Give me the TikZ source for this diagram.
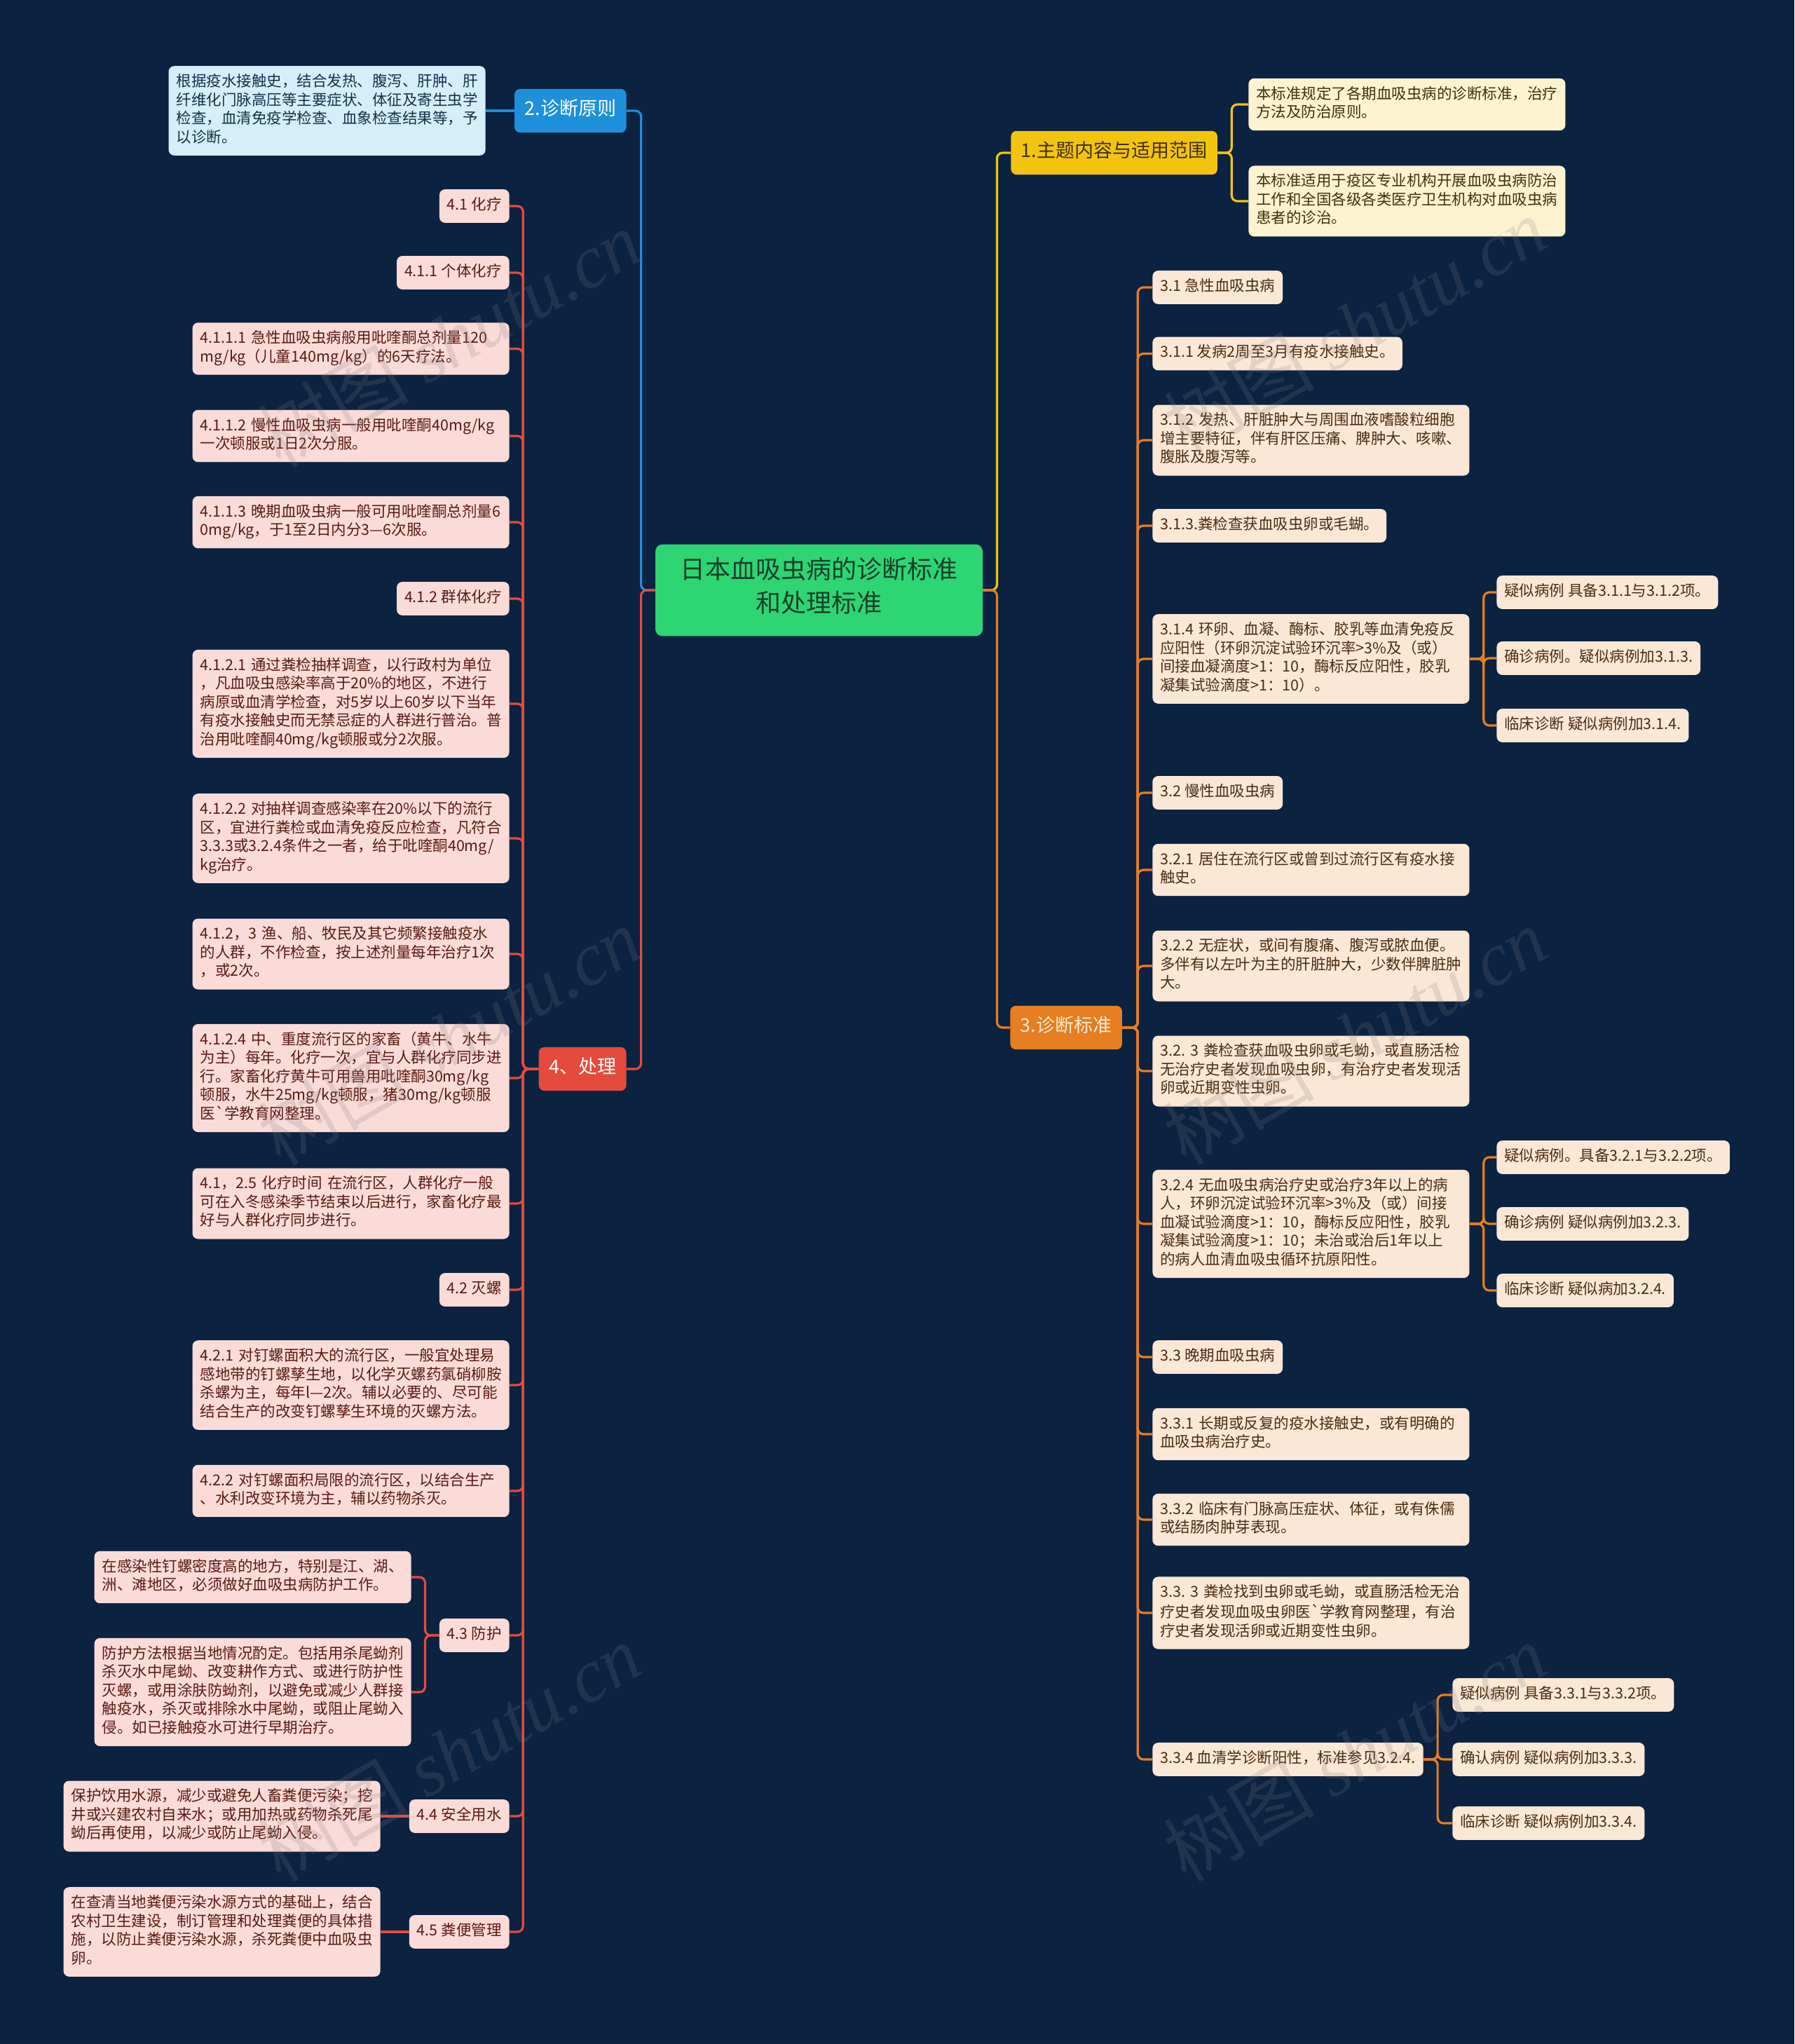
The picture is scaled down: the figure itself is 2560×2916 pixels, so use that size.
\documentclass[tikz,border=0pt]{standalone}
\usepackage{fontspec}
\setmainfont{Noto Sans CJK SC}
\newfontfamily\wmfont{Liberation Serif}
\usepackage{xcolor}
\usepackage{tikz}
\definecolor{mapbg}{HTML}{0B2241}
\definecolor{rootgreen}{HTML}{2ED573}
\definecolor{roottext}{HTML}{17402A}
\definecolor{mapblue}{HTML}{1E90DA}
\definecolor{bluefill}{HTML}{D6EEFA}
\definecolor{bluetext}{HTML}{12324A}
\definecolor{mapred}{HTML}{E44B3C}
\definecolor{redfill}{HTML}{FADBD8}
\definecolor{redtext}{HTML}{5A1A12}
\definecolor{mapyellow}{HTML}{F2C40F}
\definecolor{yellowfill}{HTML}{FDF3D0}
\definecolor{yellowtext}{HTML}{3D3210}
\definecolor{maporange}{HTML}{E67E22}
\definecolor{orangefill}{HTML}{FBE7D5}
\definecolor{orangetext}{HTML}{4A2C12}

\tikzset{
  leaf/.style={rounded corners=4pt,inner xsep=5.5pt,inner ysep=5.3pt,align=left,
    font=\fontsize{10.75}{13.3}\selectfont,
    execute at begin node=\leavevmode\strut,execute at end node=\strut},
  wide/.style={text width=215pt},
  redleaf/.style={leaf,fill=redfill,text=redtext},
  blueleaf/.style={leaf,fill=bluefill,text=bluetext},
  yellowleaf/.style={leaf,fill=yellowfill,text=yellowtext},
  orangeleaf/.style={leaf,fill=orangefill,text=orangetext},
  mainbox/.style={rounded corners=4pt,inner xsep=7.25pt,inner ysep=7.5pt,
    font=\fontsize{13.5}{16}\selectfont,execute at begin node=\strut},
  rootbox/.style={rounded corners=5pt,fill=rootgreen,text=roottext,align=center,
    minimum width=233.5pt,inner ysep=9.5pt,font=\fontsize{18}{24}\selectfont,
    execute at begin node=\strut,execute at end node=\strut},
  link/.style={line width=1.6pt,rounded corners=4pt},
  watermark/.style={rotate=30,text=gray,opacity=0.2,font=\fontsize{54}{60}\selectfont}
}

\begin{document}
\begin{tikzpicture}[x=0.5pt,y=-0.5pt]
  \fill[mapbg] (0,0) rectangle (2560,2916);
  \useasboundingbox (0,0) rectangle (2560,2916);

  \node[rootbox] (root) at (1168.5,842) {日本血吸虫病的诊断标准\\和处理标准};

  \node[mainbox,fill=mapblue,text=white,anchor=east] (b2) at (894,158) {2.诊断原则};
  \node[mainbox,fill=mapred,text=white,anchor=east] (b4) at (894,1525) {4、处理};
  \node[mainbox,fill=mapyellow,text=yellowtext,anchor=west] (b1) at (1442,218) {1.主题内容与适用范围};
  \node[mainbox,fill=maporange,text=orangefill,anchor=west] (b3) at (1441,1466) {3.诊断标准};

  \node[blueleaf,wide,anchor=east] (b2t) at (693,158) {根据疫水接触史，结合发热、腹泻、肝肿、肝\\纤维化门脉高压等主要症状、体征及寄生虫学\\检查，血清免疫学检查、血象检查结果等，予\\以诊断。};

  \node[redleaf,anchor=east] (d41) at (727,294) {4.1 化疗};
  \node[redleaf,anchor=east] (d411) at (727,389) {4.1.1 个体化疗};
  \node[redleaf,wide,anchor=east] (d4111) at (727,497.5) {4.1.1.1 急性血吸虫病般用吡喹酮总剂量120\\mg/kg（儿童140mg/kg）的6天疗法。};
  \node[redleaf,wide,anchor=east] (d4112) at (727,622) {4.1.1.2 慢性血吸虫病一般用吡喹酮40mg/kg\\一次顿服或1日2次分服。};
  \node[redleaf,wide,anchor=east] (d4113) at (727,745) {4.1.1.3 晚期血吸虫病一般可用吡喹酮总剂量6\\0mg/kg，于1至2日内分3—6次服。};
  \node[redleaf,anchor=east] (d412) at (727,854) {4.1.2 群体化疗};
  \node[redleaf,wide,anchor=east] (d4121) at (727,1004) {4.1.2.1 通过粪检抽样调查，以行政村为单位\\，凡血吸虫感染率高于20\%的地区，不进行\\病原或血清学检查，对5岁以上60岁以下当年\\有疫水接触史而无禁忌症的人群进行普治。普\\治用吡喹酮40mg/kg顿服或分2次服。};
  \node[redleaf,wide,anchor=east] (d4122) at (727,1196) {4.1.2.2 对抽样调查感染率在20\%以下的流行\\区，宜进行粪检或血清免疫反应检查，凡符合\\3.3.3或3.2.4条件之一者，给于吡喹酮40mg/\\kg治疗。};
  \node[redleaf,wide,anchor=east] (d4123) at (727,1361) {4.1.2，3 渔、船、牧民及其它频繁接触疫水\\的人群，不作检查，按上述剂量每年治疗1次\\，或2次。};
  \node[redleaf,wide,anchor=east] (d4124) at (727,1538) {4.1.2.4 中、重度流行区的家畜（黄牛、水牛\\为主）每年。化疗一次，宜与人群化疗同步进\\行。家畜化疗黄牛可用兽用吡喹酮30mg/kg\\顿服，水牛25mg/kg顿服，猪30mg/kg顿服\\医\textasciigrave 学教育网整理。};
  \node[redleaf,wide,anchor=east] (d4125) at (727,1717) {4.1，2.5 化疗时间 在流行区，人群化疗一般\\可在入冬感染季节结束以后进行，家畜化疗最\\好与人群化疗同步进行。};
  \node[redleaf,anchor=east] (d42) at (727,1840) {4.2 灭螺};
  \node[redleaf,wide,anchor=east] (d421) at (727,1976) {4.2.1 对钉螺面积大的流行区，一般宜处理易\\感地带的钉螺孳生地，以化学灭螺药氯硝柳胺\\杀螺为主，每年l—2次。辅以必要的、尽可能\\结合生产的改变钉螺孳生环境的灭螺方法。};
  \node[redleaf,wide,anchor=east] (d422) at (727,2127) {4.2.2 对钉螺面积局限的流行区，以结合生产\\、水利改变环境为主，辅以药物杀灭。};
  \node[redleaf,anchor=east] (d43) at (727,2333) {4.3 防护};
  \node[redleaf,wide,anchor=east] (d43a) at (587,2250) {在感染性钉螺密度高的地方，特别是江、湖、\\洲、滩地区，必须做好血吸虫病防护工作。};
  \node[redleaf,wide,anchor=east] (d43b) at (587,2414) {防护方法根据当地情况酌定。包括用杀尾蚴剂\\杀灭水中尾蚴、改变耕作方式、或进行防护性\\灭螺，或用涂肤防蚴剂，以避免或减少人群接\\触疫水，杀灭或排除水中尾蚴，或阻止尾蚴入\\侵。如已接触疫水可进行早期治疗。};
  \node[redleaf,anchor=east] (d44) at (727,2591) {4.4 安全用水};
  \node[redleaf,wide,anchor=east] (d44a) at (543,2591) {保护饮用水源，减少或避免人畜粪便污染；挖\\井或兴建农村自来水；或用加热或药物杀死尾\\蚴后再使用，以减少或防止尾蚴入侵。};
  \node[redleaf,anchor=east] (d45) at (727,2756) {4.5 粪便管理};
  \node[redleaf,wide,anchor=east] (d45a) at (543,2756) {在查清当地粪便污染水源方式的基础上，结合\\农村卫生建设，制订管理和处理粪便的具体措\\施，以防止粪便污染水源，杀死粪便中血吸虫\\卵。};

  \node[yellowleaf,wide,anchor=west] (b1a) at (1781,149) {本标准规定了各期血吸虫病的诊断标准，治疗\\方法及防治原则。};
  \node[yellowleaf,wide,anchor=west] (b1b) at (1781,287) {本标准适用于疫区专业机构开展血吸虫病防治\\工作和全国各级各类医疗卫生机构对血吸虫病\\患者的诊治。};

  \node[orangeleaf,anchor=west] (c31) at (1644,410) {3.1 急性血吸虫病};
  \node[orangeleaf,anchor=west] (c311) at (1644,504.5) {3.1.1 发病2周至3月有疫水接触史。};
  \node[orangeleaf,wide,anchor=west] (c312) at (1644,628) {3.1.2 发热、肝脏肿大与周围血液嗜酸粒细胞\\增主要特征，伴有肝区压痛、脾肿大、咳嗽、\\腹胀及腹泻等。};
  \node[orangeleaf,anchor=west] (c313) at (1644,750) {3.1.3.粪检查获血吸虫卵或毛蝴。};
  \node[orangeleaf,wide,anchor=west] (c314) at (1644,940) {3.1.4 环卵、血凝、酶标、胶乳等血清免疫反\\应阳性（环卵沉淀试验环沉率>3\%及（或）\\间接血凝滴度>1：10，酶标反应阳性，胶乳\\凝集试验滴度>1：10）。};
  \node[orangeleaf,anchor=west] (c314a) at (2135,845) {疑似病例 具备3.1.1与3.1.2项。};
  \node[orangeleaf,anchor=west] (c314b) at (2135,939) {确诊病例。疑似病例加3.1.3.};
  \node[orangeleaf,anchor=west] (c314c) at (2135,1035) {临床诊断 疑似病例加3.1.4.};
  \node[orangeleaf,anchor=west] (c32) at (1644,1131) {3.2 慢性血吸虫病};
  \node[orangeleaf,wide,anchor=west] (c321) at (1644,1241) {3.2.1 居住在流行区或曾到过流行区有疫水接\\触史。};
  \node[orangeleaf,wide,anchor=west] (c322) at (1644,1378) {3.2.2 无症状，或间有腹痛、腹泻或脓血便。\\多伴有以左叶为主的肝脏肿大，少数伴脾脏肿\\大。};
  \node[orangeleaf,wide,anchor=west] (c323) at (1644,1528) {3.2.~3~粪检查获血吸虫卵或毛蚴，或直肠活检\\无治疗史者发现血吸虫卵，有治疗史者发现活\\卵或近期变性虫卵。};
  \node[orangeleaf,wide,anchor=west] (c324) at (1644,1746) {3.2.4 无血吸虫病治疗史或治疗3年以上的病\\人，环卵沉淀试验环沉率>3\%及（或）间接\\血凝试验滴度>1：10，酶标反应阳性，胶乳\\凝集试验滴度>1：10；未治或治后1年以上\\的病人血清血吸虫循环抗原阳性。};
  \node[orangeleaf,anchor=west] (c324a) at (2135,1651) {疑似病例。具备3.2.1与3.2.2项。};
  \node[orangeleaf,anchor=west] (c324b) at (2135,1746) {确诊病例 疑似病例加3.2.3.};
  \node[orangeleaf,anchor=west] (c324c) at (2135,1841) {临床诊断 疑似病加3.2.4.};
  \node[orangeleaf,anchor=west] (c33) at (1644,1936) {3.3 晚期血吸虫病};
  \node[orangeleaf,wide,anchor=west] (c331) at (1644,2046) {3.3.1 长期或反复的疫水接触史，或有明确的\\血吸虫病治疗史。};
  \node[orangeleaf,wide,anchor=west] (c332) at (1644,2168) {3.3.2 临床有门脉高压症状、体征，或有侏儒\\或结肠肉肿芽表现。};
  \node[orangeleaf,wide,anchor=west] (c333) at (1644,2301) {3.3.~3~粪检找到虫卵或毛蚴，或直肠活检无治\\疗史者发现血吸虫卵医\textasciigrave 学教育网整理，有治\\疗史者发现活卵或近期变性虫卵。};
  \node[orangeleaf,anchor=west] (c334) at (1644,2510) {3.3.4 血清学诊断阳性，标准参见3.2.4.};
  \node[orangeleaf,anchor=west] (c334a) at (2072,2418) {疑似病例 具备3.3.1与3.3.2项。};
  \node[orangeleaf,anchor=west] (c334b) at (2072,2510) {确认病例 疑似病例加3.3.3.};
  \node[orangeleaf,anchor=west] (c334c) at (2072,2601) {临床诊断 疑似病例加3.3.4.};

  \draw[link,mapblue] (root.west) -- ++(-20,0) |- (b2.east);
  \draw[link,mapred] (root.west) -- ++(-20,0) |- (b4.east);
  \draw[link,mapyellow] (root.east) -- ++(20,0) |- (b1.west);
  \draw[link,maporange] (root.east) -- ++(20,0) |- (b3.west);
  \draw[link,mapblue] (b2.west) -- (b2t.east);
  \foreach \c in {d41,d411,d4111,d4112,d4113,d412,d4121,d4122,d4123,d4124,d4125,d42,d421,d422,d43,d44,d45}
    \draw[link,mapred] (b4.west) -- ++(-22,0) |- (\c.east);
  \foreach \c in {d43a,d43b}
    \draw[link,mapred] (d43.west) -- ++(-20,0) |- (\c.east);
  \draw[link,mapred] (d44.west) -- (d44a.east);
  \draw[link,mapred] (d45.west) -- (d45a.east);
  \foreach \c in {b1a,b1b}
    \draw[link,mapyellow] (b1.east) -- ++(20,0) |- (\c.west);
  \foreach \c in {c31,c311,c312,c313,c314,c32,c321,c322,c323,c324,c33,c331,c332,c333,c334}
    \draw[link,maporange] (b3.east) -- ++(22,0) |- (\c.west);
  \foreach \c in {c314a,c314b,c314c}
    \draw[link,maporange] (c314.east) -- ++(20,0) |- (\c.west);
  \foreach \c in {c324a,c324b,c324c}
    \draw[link,maporange] (c324.east) -- ++(20,0) |- (\c.west);
  \foreach \c in {c334a,c334b,c334c}
    \draw[link,maporange] (c334.east) -- ++(20,0) |- (\c.west);

  \foreach \wx/\wy [count=\i] in {641/483,1933/465,641/1478,1933/1478,641/2500,1933/2500}
    \node[watermark] (wm\i) at (\wx,\wy) {树图 {\wmfont\itshape shutu.cn}};
\end{tikzpicture}
\end{document}
